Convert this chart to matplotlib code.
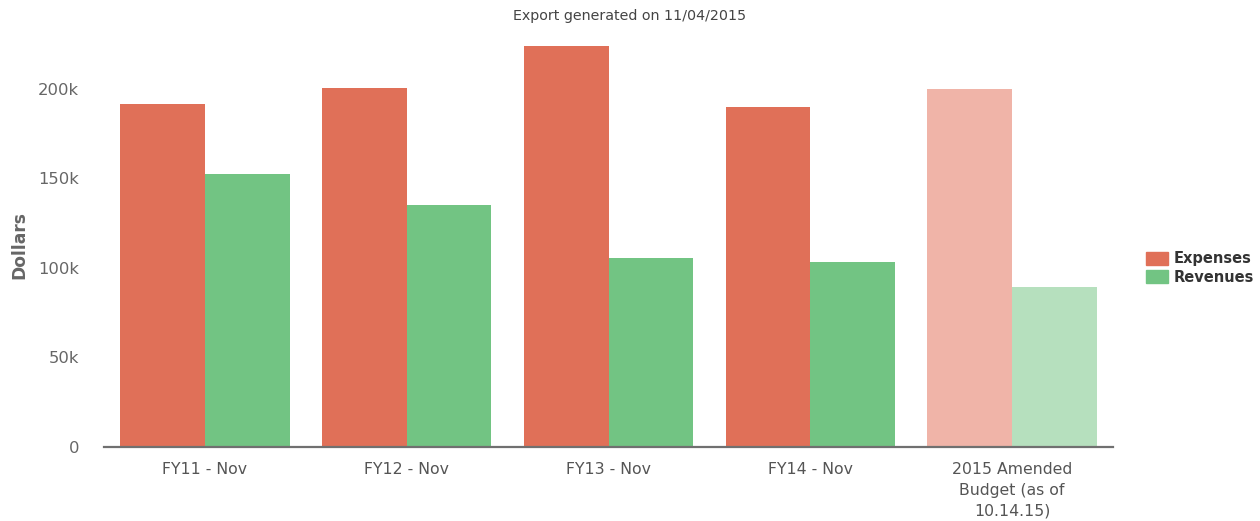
import matplotlib
matplotlib.use("Agg")
import matplotlib.pyplot as plt
from matplotlib.patches import Patch
from matplotlib.ticker import FuncFormatter

plt.rcParams["font.family"] = ["DejaVu Sans"]

categories = ["FY11 - Nov", "FY12 - Nov", "FY13 - Nov", "FY14 - Nov",
              "2015 Amended\nBudget (as of\n10.14.15)"]
expenses = [191500, 200500, 224000, 189500, 200000]
revenues = [152500, 135000, 105500, 103500, 89500]
yticks = [0, 50000, 100000, 150000, 200000]

exp_color = "#E07058"
rev_color = "#72C483"
exp_faded = "#F0B4A8"
rev_faded = "#B6E0BE"

fig = plt.figure(figsize=(12.6, 5.21), dpi=100)
ax = fig.add_axes([104/1260, 1-447/521, (1113-104)/1260, (447-43)/521])

w = 0.42
x = list(range(len(categories)))
ec = [exp_color]*4 + [exp_faded]
rc = [rev_color]*4 + [rev_faded]
ax.bar([i - w/2 for i in x], expenses, width=w, color=ec, linewidth=0)
ax.bar([i + w/2 for i in x], revenues, width=w, color=rc, linewidth=0)

ax.set_xlim(-0.5, len(categories) - 0.5)
ax.set_ylim(0, 225500)
ax.set_yticks(yticks)
ax.yaxis.set_major_formatter(FuncFormatter(lambda v, p: "0" if v == 0 else f"{int(v/1000)}k"))
ax.set_xticks(x)
ax.set_xticklabels(categories, fontsize=11.3, color="#555555", linespacing=1.45)
ax.tick_params(axis="x", length=0, pad=11)
ax.tick_params(axis="y", length=0, pad=18, labelsize=11.8, labelcolor="#666666")
for s in ["top", "right", "left"]:
    ax.spines[s].set_visible(False)
ax.spines["bottom"].set_color("#707070")
ax.spines["bottom"].set_linewidth(1.6)

ax.set_ylabel("Dollars", fontsize=12.3, fontweight="bold", color="#666666")
ax.yaxis.set_label_coords(-0.075, 0.5)

fig.text(0.5, 1-16/521, "Export generated on 11/04/2015", ha="center", va="center",
         fontsize=10.3, color="#444444")

handles = [Patch(color=exp_color, label="Expenses"), Patch(color=rev_color, label="Revenues")]
leg = fig.legend(handles=handles, loc="center left", bbox_to_anchor=(1146/1260, 1-268/521),
                 frameon=False, handlelength=1.5, handleheight=1.0, handletextpad=0.4,
                 labelspacing=0.25, borderaxespad=0, borderpad=0,
                 prop={"weight": "bold", "size": 10.5})
for t in leg.get_texts():
    t.set_color("#333333")

fig.savefig("out.png", dpi=100)
